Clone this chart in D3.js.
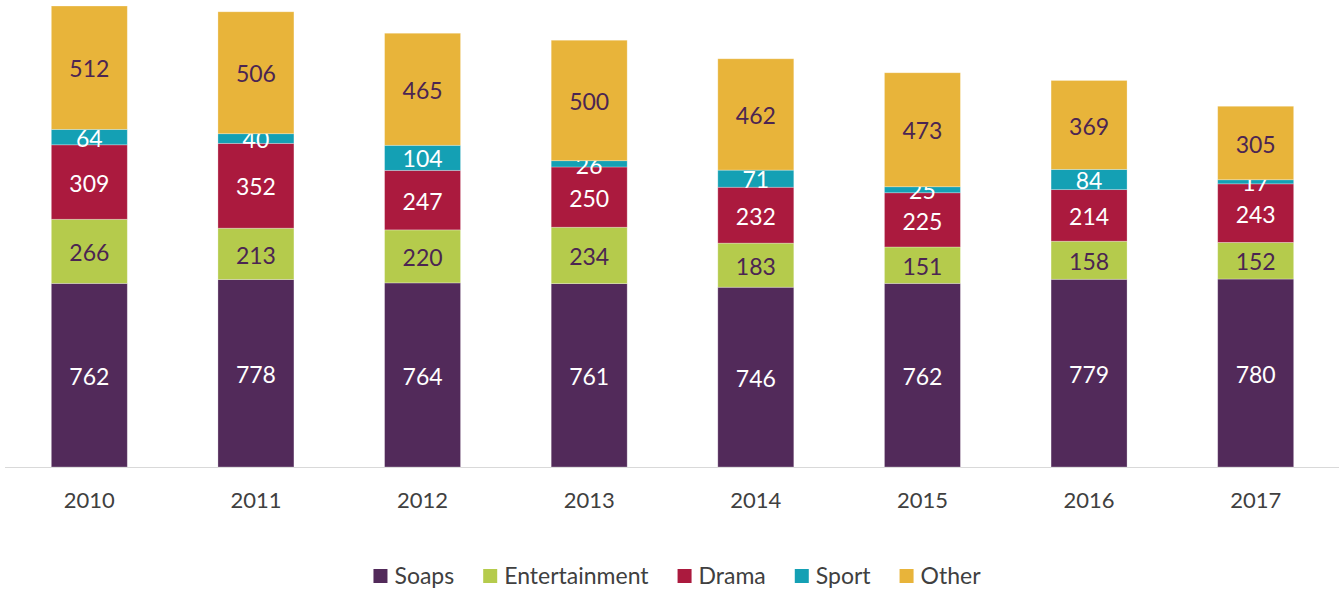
<!DOCTYPE html>
<html>
<head>
<meta charset="utf-8">
<script src="https://cdn.jsdelivr.net/npm/d3@7"></script>
<style>
  html, body { margin: 0; padding: 0; background: #fff; }
  svg { display: block; font-family: Lato, "Open Sans", sans-serif; }
</style>
</head>
<body>
<svg id="chart" width="1341" height="592"></svg>
<script>
// Hours by genre, per year
const years = ["2010", "2011", "2012", "2013", "2014", "2015", "2016", "2017"];
const seriesNames = ["Soaps", "Entertainment", "Drama", "Sport", "Other"];
const soaps = [762, 778, 764, 761, 746, 762, 779, 780];
const entertainment = [266, 213, 220, 234, 183, 151, 158, 152];
const drama = [309, 352, 247, 250, 232, 225, 214, 243];
const sport = [64, 40, 104, 26, 71, 25, 84, 17];
const other = [512, 506, 465, 500, 462, 473, 369, 305];

const colors = ["#522a5a", "#b5cb4c", "#ab1a3e", "#14a0b4", "#e8b43a"];
const labelColors = ["#ffffff", "#4b2552", "#ffffff", "#ffffff", "#4b2552"];

const rows = years.map((y, i) => ({
  year: y,
  Soaps: soaps[i],
  Entertainment: entertainment[i],
  Drama: drama[i],
  Sport: sport[i],
  Other: other[i]
}));

const svg = d3.select("#chart");
const baseY = 467;

const x = d3.scaleBand().domain(years).range([6, 1339]).paddingInner(0.544).paddingOuter(0.272);
const y = d3.scaleLinear().domain([0, 1913]).range([baseY, 6]);

const stacked = d3.stack().keys(seriesNames)(rows);

// axis baseline
svg.append("line")
  .attr("x1", 5).attr("x2", 1339)
  .attr("y1", baseY + 0.5).attr("y2", baseY + 0.5)
  .attr("stroke", "#d9d9d9").attr("stroke-width", 1);

const groups = svg.selectAll("g.series").data(stacked).enter()
  .append("g").attr("class", "series");

groups.selectAll("rect").data((s, si) => s.map(d => ({ d, si }))).enter()
  .append("rect")
  .attr("x", o => x(o.d.data.year))
  .attr("width", x.bandwidth())
  .attr("y", o => y(o.d[1]))
  .attr("height", o => y(o.d[0]) - y(o.d[1]))
  .attr("fill", o => colors[o.si])
  .attr("stroke", "#ffffff")
  .attr("stroke-opacity", 0.35)
  .attr("stroke-width", 0.8);

// value labels, centred in each segment
groups.selectAll("text").data((s, si) => s.map(d => ({ d, si }))).enter()
  .append("text")
  .attr("x", o => x(o.d.data.year) + x.bandwidth() / 2)
  .attr("y", o => (y(o.d[0]) + y(o.d[1])) / 2)
  .attr("dy", "0.42em")
  .attr("text-anchor", "middle")
  .attr("font-size", 23)
  .attr("fill", o => labelColors[o.si])
  .text(o => o.d[1] - o.d[0]);

// category axis labels
const xAxis = d3.axisBottom(x).tickSize(0).tickPadding(0);
const ax = svg.append("g").attr("transform", `translate(0, ${baseY})`).call(xAxis);
ax.select(".domain").remove();
ax.selectAll("text")
  .attr("y", 33)
  .attr("dy", "0.38em")
  .attr("font-size", 22)
  .attr("font-family", "Lato, 'Open Sans', sans-serif")
  .attr("fill", "#404040");

// legend, laid out then centred
const legend = svg.append("g");
let lx = 0;
seriesNames.forEach((name, i) => {
  const g = legend.append("g").attr("transform", `translate(${lx}, 0)`);
  g.append("rect").attr("x", 0).attr("y", -7).attr("width", 14).attr("height", 14).attr("fill", colors[i]);
  const t = g.append("text").attr("x", 21).attr("y", 0).attr("dy", "0.36em")
    .attr("font-size", 23).attr("fill", "#404040").text(name);
  const w = t.node().getComputedTextLength();
  lx += 21 + w + (i < seriesNames.length - 1 ? 29 : 0);
});
legend.attr("transform", `translate(${677 - lx / 2}, 576)`);
</script>
</body>
</html>
